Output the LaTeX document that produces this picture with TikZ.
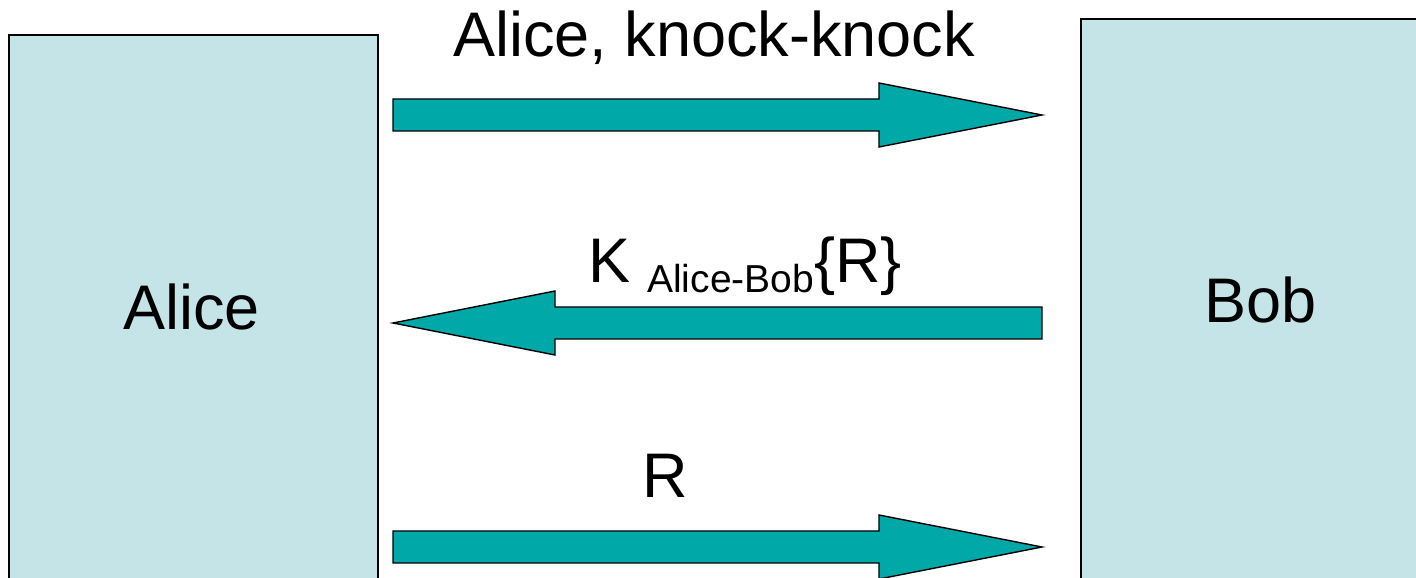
\documentclass[tikz,border=0pt]{standalone}
\usepackage{fontspec}
\setmainfont{Liberation Sans}
\definecolor{partyfill}{RGB}{197,228,231}
\definecolor{msgfill}{RGB}{0,168,168}
\tikzset{
  party/.style={draw=black, line width=1.6pt, fill=partyfill},
  msg/.style={draw=black, line width=1.4pt, fill=msgfill, line join=miter},
  big/.style={inner sep=0pt, font=\fontsize{63}{70}\selectfont},
}
% fat block arrow: tail x, tip x, centre y, head base x
\newcommand{\blockarrow}[4]{%
  \draw[msg] (#1,#3+16) -- (#4,#3+16) -- (#4,#3+32) -- (#2,#3)
    -- (#4,#3-32) -- (#4,#3-16) -- (#1,#3-16) -- cycle;}
\begin{document}
\begin{tikzpicture}[x=1pt,y=1pt]
  \useasboundingbox (0,0) rectangle (1416,578);
  \clip (0,0) rectangle (1416,578);

  % the two parties
  \draw[party] (9,-20) rectangle (378,543);
  \draw[party] (1081,-20) rectangle (1440,559);
  \node[big, anchor=base west] (alice) at (123,248) {Alice};
  \node[big, anchor=base west] (bob) at (1204,255) {Bob};

  % messages
  \coordinate (m1) at (393,463);
  \coordinate (m2) at (393,255);
  \coordinate (m3) at (393,31);
  \blockarrow{393}{1042}{463}{879}
  \blockarrow{1042}{393}{255}{555}
  \blockarrow{393}{1042}{31}{879}

  \node[big, anchor=base west] (l1) at (453,521) {Alice, knock-knock};
  \node[big, anchor=base west] (l2) at (588,295)
    {K\hspace{17pt}\raisebox{-10pt}{\fontsize{39}{44}\selectfont Alice-Bob}\{R\}};
  \node[big, anchor=base west] (l3) at (642,80) {R};
\end{tikzpicture}
\end{document}
